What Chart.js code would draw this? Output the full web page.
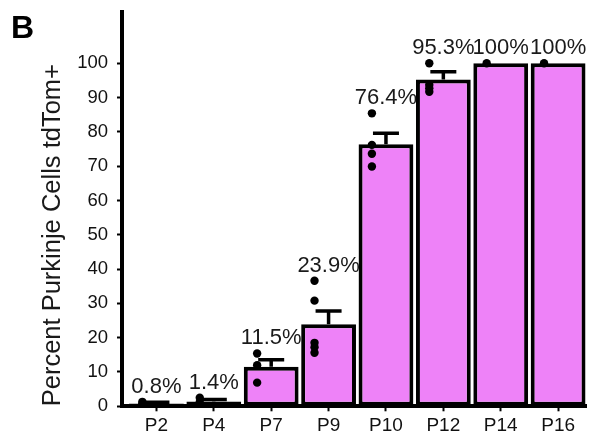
<!DOCTYPE html>
<html>
<head>
<meta charset="utf-8">
<script src="https://cdn.jsdelivr.net/npm/chart.js@4.4.1/dist/chart.umd.min.js"></script>
<style>
  html, body { margin: 0; padding: 0; background: #fff; }
  #wrap { position: relative; width: 591px; height: 437px; }
</style>
</head>
<body>
<div id="wrap"><canvas id="chart"></canvas></div>
<script>
"use strict";

var ages = ["P2", "P4", "P7", "P9", "P10", "P12", "P14", "P16"];
var meanPercent = [0.8, 1.4, 11.5, 23.9, 76.4, 95.3, 100, 100];
var semPercent = [0.4, 0.6, 2.1, 3.9, 3.2, 2.2, 0, 0];
var pctLabels = ["0.8%", "1.4%", "11.5%", "23.9%", "76.4%", "95.3%", "100%", "100%"];
var animalPoints = [
    [1.3, 0.8, 0.3],
    [2.5, 1.2, 0.5],
    [15.4, 12.0, 6.9],
    [36.6, 30.8, 18.5, 17.2, 15.6],
    [85.4, 76.2, 73.6, 69.9],
    [100, 93.7, 92.7, 91.7],
    [100],
    [100]
];
var yTicks = [0, 10, 20, 30, 40, 50, 60, 70, 80, 90, 100];

var FONT = "'Liberation Sans', Arial, Helvetica, sans-serif";
var DOT_SHIFT = -0.245;   // dots sit left of the bar centre

var barData = meanPercent.map(function(m, i) { return { x: i, y: m }; });
var dotData = [];
animalPoints.forEach(function(pts, i) {
    pts.forEach(function(v) { dotData.push({ x: i + DOT_SHIFT, y: v }); });
});

var errorBars = {
    id: "errorBars",
    afterDatasetDraw: function(chart, args) {
        if (args.index !== 0) return;
        var ctx = chart.ctx, xs = chart.scales.x, ys = chart.scales.y;
        ctx.save();
        ctx.strokeStyle = "#000";
        ctx.lineWidth = 3.5;
        meanPercent.forEach(function(m, i) {
            if (!semPercent[i]) return;
            var cx = xs.getPixelForValue(i);
            var top = ys.getPixelForValue(m + semPercent[i]);
            var base = ys.getPixelForValue(m);
            ctx.beginPath();
            ctx.moveTo(cx, base);
            ctx.lineTo(cx, top);
            ctx.moveTo(cx - 13, top);
            ctx.lineTo(cx + 13, top);
            ctx.stroke();
        });
        ctx.restore();
    }
};

var pctText = {
    id: "pctText",
    afterDatasetsDraw: function(chart) {
        var ctx = chart.ctx, xs = chart.scales.x, ys = chart.scales.y;
        ctx.save();
        ctx.fillStyle = "#1a1a1a";
        ctx.font = "22px " + FONT;
        ctx.textAlign = "center";
        ctx.textBaseline = "alphabetic";
        pctLabels.forEach(function(t, i) {
            var hi = Math.max(meanPercent[i] + semPercent[i], Math.max.apply(null, animalPoints[i]));
            ctx.fillText(t, xs.getPixelForValue(i), ys.getPixelForValue(hi) - 9);
        });
        ctx.font = "bold 32px " + FONT;
        ctx.fillStyle = "#000";
        ctx.textAlign = "left";
        ctx.fillText("B", 11, 38);
        ctx.restore();
    }
};

new Chart(document.getElementById("chart"), {
    type: "bar",
    data: {
        datasets: [{
            type: "bar",
            data: barData,
            backgroundColor: "#EE82F8",
            borderColor: "#000",
            borderWidth: 4,
            borderSkipped: false,
            barPercentage: 0.955,
            categoryPercentage: 1,
            order: 2
        }, {
            type: "scatter",
            data: dotData,
            pointRadius: 4.2,
            pointHoverRadius: 4.2,
            pointBackgroundColor: "#000",
            pointBorderWidth: 0,
            showLine: false,
            order: 1
        }]
    },
    options: {
        responsive: true,
        maintainAspectRatio: false,
        devicePixelRatio: 1,
        animation: false,
        layout: { padding: { left: 0, top: 11.8, right: 2.4, bottom: 0 } },
        plugins: {
            legend: { display: false },
            tooltip: { enabled: false }
        },
        scales: {
            x: {
                type: "linear",
                min: -0.6,
                max: 7.5,
                offset: false,
                afterBuildTicks: function(s) {
                    s.ticks = ages.map(function(a, i) { return { value: i }; });
                },
                afterFit: function(s) {
                    s.height = 30.7;
                    s.paddingLeft = 0;
                    s.paddingRight = 0;
                },
                ticks: {
                    callback: function(v) { return ages[v]; },
                    font: { family: FONT, size: 19 },
                    color: "#111",
                    padding: 3,
                    maxRotation: 0,
                    autoSkip: false
                },
                grid: { offset: false, drawOnChartArea: false, drawTicks: true, tickLength: 5, tickWidth: 2, tickColor: "#000" },
                border: { display: true, width: 4, color: "#000" }
            },
            y: {
                type: "linear",
                min: 0,
                max: 115,
                afterBuildTicks: function(s) {
                    s.ticks = yTicks.map(function(v) { return { value: v }; });
                },
                afterFit: function(s) {
                    s.width = 122;
                    s.paddingTop = 0;
                    s.paddingBottom = 0;
                },
                ticks: {
                    font: { family: FONT, size: 18.5 },
                    color: "#111",
                    padding: 9
                },
                grid: { drawOnChartArea: false, drawTicks: true, tickLength: 5, tickWidth: 2, tickColor: "#000" },
                border: { display: true, width: 4, color: "#000" },
                title: {
                    display: true,
                    text: "Percent Purkinje Cells tdTom+",
                    align: "start",
                    font: { family: FONT, size: 25.5 },
                    color: "#1a1a1a",
                    padding: { top: 38, bottom: 0 }
                }
            }
        }
    },
    plugins: [errorBars, pctText]
});
</script>
</body>
</html>
